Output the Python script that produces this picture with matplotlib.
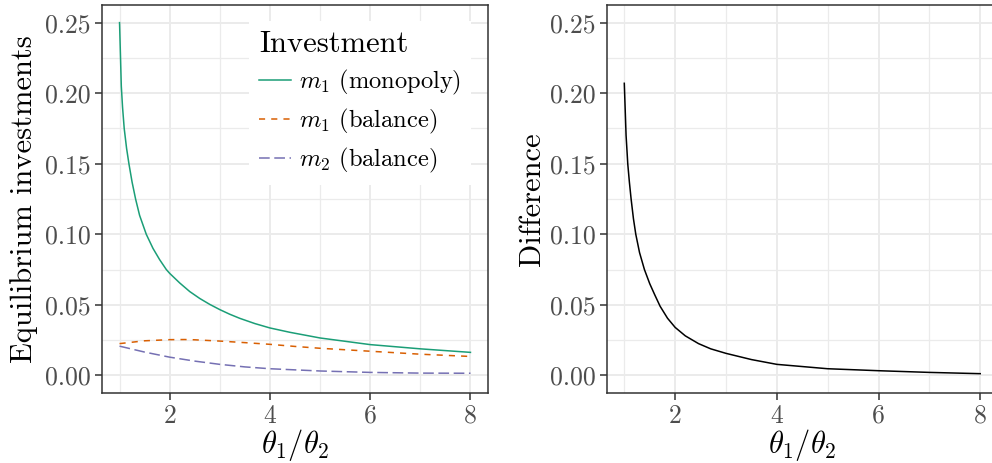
import matplotlib
matplotlib.use("Agg")
from matplotlib import pyplot as plt
from matplotlib.ticker import FixedLocator

plt.rcParams['font.family'] = 'serif'
plt.rcParams['font.serif'] = ['cmr10', 'DejaVu Serif']
plt.rcParams['mathtext.fontset'] = 'cm'
plt.rcParams['axes.formatter.use_mathtext'] = True

# values
mono_x = [1.0, 1.035, 1.06, 1.093, 1.14, 1.187, 1.25, 1.32, 1.4, 1.533, 1.667, 1.8, 1.933, 2.0,
          2.2, 2.4, 2.6, 2.8, 3.0, 3.2, 3.4, 3.7, 4.0, 4.4, 5.0, 6.0, 7.0, 8.0]
mono_y = [0.250, 0.205, 0.190, 0.175, 0.161, 0.150, 0.137, 0.125, 0.1134, 0.100, 0.090, 0.082, 0.075, 0.0723,
          0.0655, 0.0594, 0.0545, 0.0503, 0.0466, 0.0433, 0.0404, 0.0367, 0.0336, 0.0305, 0.0265, 0.0218, 0.0188, 0.0163]

bal1_x = [1.0, 1.5, 2.0, 2.3, 2.5, 3.0, 3.5, 4.0, 4.5, 5.0, 6.0, 7.0, 8.0]
bal1_y = [0.0225, 0.0245, 0.0253, 0.0254, 0.0252, 0.0243, 0.0232, 0.0220, 0.0205, 0.0192, 0.0171, 0.0150, 0.0134]

bal2_x = [1.0, 1.5, 2.0, 2.5, 3.0, 3.5, 4.0, 5.0, 6.0, 7.0, 8.0]
bal2_y = [0.0207, 0.0165, 0.0129, 0.0101, 0.0078, 0.0060, 0.0047, 0.0031, 0.0021, 0.0016, 0.0015]

diff_x = [1.0, 1.035, 1.055, 1.068, 1.10, 1.134, 1.18, 1.226, 1.30, 1.396, 1.5, 1.6, 1.704, 1.85, 2.0,
          2.2, 2.46, 2.7, 3.0, 3.5, 4.0, 5.0, 6.0, 7.0, 8.0]
diff_y = [0.207, 0.170, 0.158, 0.150, 0.137, 0.125, 0.111, 0.100, 0.087, 0.075, 0.065, 0.057, 0.049, 0.0405, 0.0340,
          0.0280, 0.0225, 0.0188, 0.0156, 0.0112, 0.0078, 0.0047, 0.0033, 0.0021, 0.0012]

labels = [r'$m_1$ (monopoly)', r'$m_1$ (balance)', r'$m_2$ (balance)']
colors = ['#1B9E77', '#D95F02', '#7570B3']

x_ticks = [2, 4, 6, 8]
y_ticks = [0.0, 0.05, 0.10, 0.15, 0.20, 0.25]

W, H = 992, 463
fig = plt.figure(figsize=(W / 100, H / 100), dpi=100)
ax1 = fig.add_axes([102 / W, 1 - 393 / H, 386 / W, 388 / H])
ax2 = fig.add_axes([606.5 / W, 1 - 393 / H, 391.5 / W, 388 / H])

def style(ax):
    ax.set_xlim(0.65, 8.35)
    ax.set_ylim(-0.0125, 0.2625)
    ax.xaxis.set_major_locator(FixedLocator(x_ticks))
    ax.xaxis.set_minor_locator(FixedLocator([1, 3, 5, 7]))
    ax.yaxis.set_major_locator(FixedLocator(y_ticks))
    ax.yaxis.set_minor_locator(FixedLocator([0.025, 0.075, 0.125, 0.175, 0.225]))
    ax.set_xticklabels([str(t) for t in x_ticks])
    ax.set_yticklabels(['%.2f' % t for t in y_ticks])
    ax.grid(which='major', color='#EBEBEB', lw=1.4)
    ax.grid(which='minor', color='#EBEBEB', lw=0.9)
    ax.set_axisbelow(True)
    for s in ax.spines.values():
        s.set_color('#333333')
        s.set_linewidth(1.1)
    ax.tick_params(which='major', length=5, width=1.1, color='#333333',
                   labelcolor='#4D4D4D', labelsize=18.5, pad=3)
    ax.tick_params(which='minor', length=0)
    ax.set_xlabel(r'$\theta_1/\theta_2$', fontsize=22)
    ax.xaxis.set_label_coords(0.5, -0.134)
    ax.xaxis.label.set_verticalalignment('center')

style(ax1)
style(ax2)

ax1.plot(mono_x, mono_y, color=colors[0], lw=1.1, label=labels[0])
ax1.plot(bal1_x, bal1_y, color=colors[1], lw=1.1, dashes=(4, 4), label=labels[1])
ax1.plot(bal2_x, bal2_y, color=colors[2], lw=1.1, dashes=(7, 3), label=labels[2])
ax2.plot(diff_x, diff_y, color='black', lw=1.1)

ax1.set_ylabel('Equilibrium investments', fontsize=22)
ax1.yaxis.set_label_coords((24 - 102) / 386, 0.5)
ax1.yaxis.label.set_verticalalignment('center')
ax2.set_ylabel('Difference', fontsize=22)
ax2.yaxis.set_label_coords((532 - 606.5) / 391.5, 0.5)
ax2.yaxis.label.set_verticalalignment('center')

leg = ax1.legend(loc='upper left', bbox_to_anchor=(0.35, 0.99), title='Investment',
                 fontsize=17.6, title_fontsize=22, frameon=True, fancybox=False,
                 handlelength=1.3, handletextpad=0.35, labelspacing=0.4,
                 borderpad=0.4, alignment='left')
leg.get_frame().set_facecolor('white')
leg.get_frame().set_edgecolor('none')
leg.get_frame().set_alpha(1)

fig.savefig('out.png', dpi=100)
